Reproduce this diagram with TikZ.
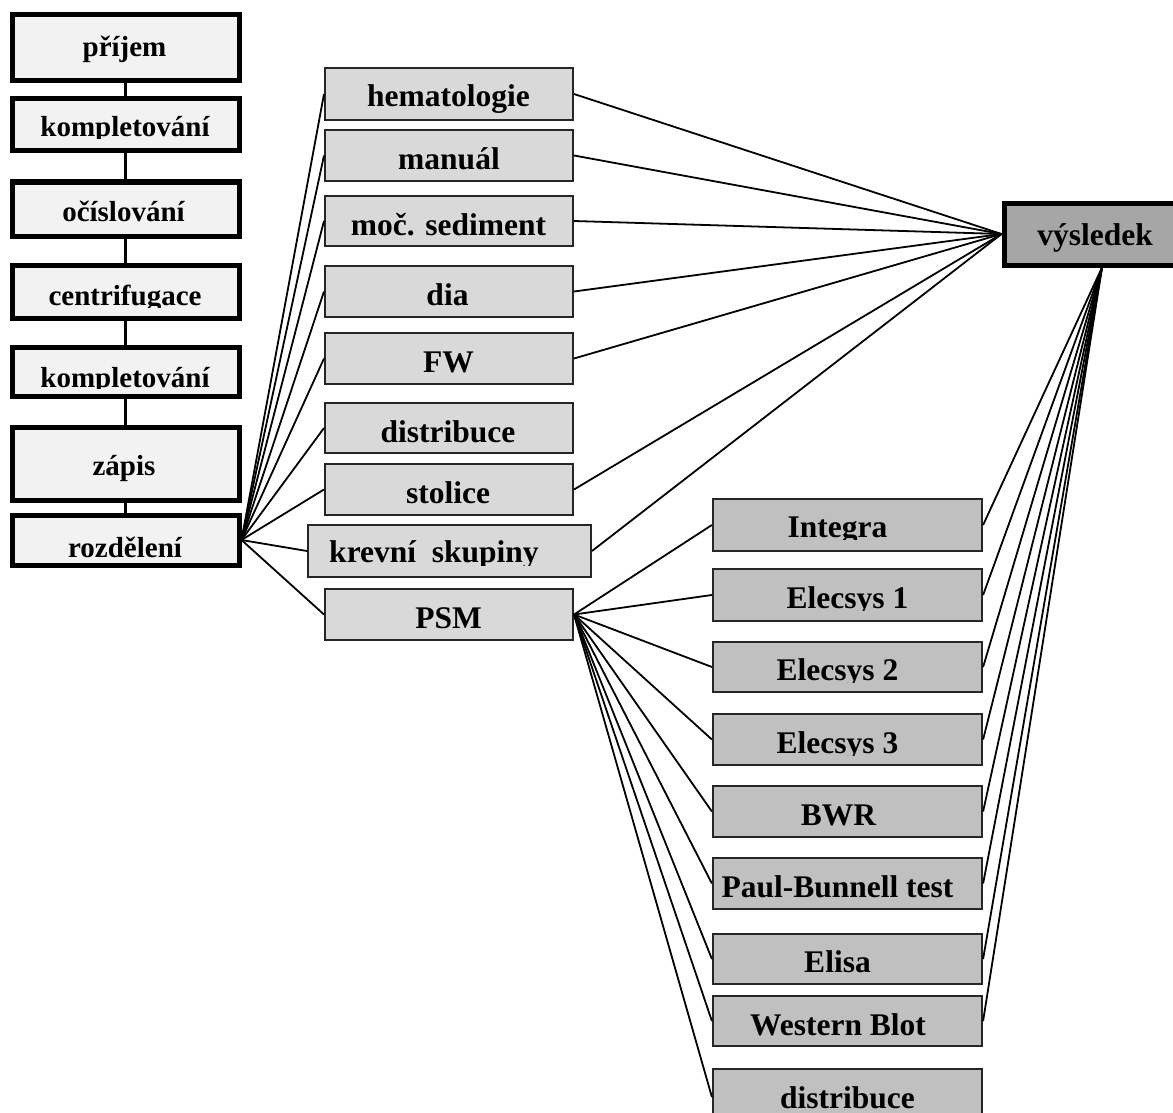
\documentclass[tikz,border=0pt]{standalone}
\usepackage{fontspec}
\setmainfont{Liberation Serif}
\definecolor{fillL}{HTML}{F2F2F2}
\definecolor{fillM}{HTML}{D9D9D9}
\definecolor{fillR}{HTML}{C0C0C0}
\definecolor{fillV}{HTML}{A6A6A6}
\def\tsize{31.5}
\tikzset{
 boxL/.style={draw=black, line width=5pt, fill=fillL, inner sep=0pt},
 boxM/.style={draw=black!85, line width=2pt, fill=fillM, inner sep=0pt},
 boxR/.style={draw=black!85, line width=2.2pt, fill=fillR, inner sep=0pt},
 boxV/.style={draw=black, line width=5pt, fill=fillV, inner sep=0pt},
 txt/.style={anchor=base, inner sep=0pt, font=\fontsize{\tsize}{\tsize}\selectfont\bfseries},
 link/.style={line width=1.8pt, black},
 chain/.style={line width=2.6pt, black},
}
% #1 name, #2 style, #3 x1, #4 y1, #5 x2, #6 y2, #7 text point, #8 clip y, #9 text
\newcommand\mybox[9]{%
 \node[#2, minimum width={(#5)-(#3)}, minimum height={(#6)-(#4)}] (#1) at ({(#3+#5)/2},{(#4+#6)/2}) {};
 \begin{scope}
  \clip (#3,#4) rectangle (#5,#8);
  \node[txt] (#1t) at (#7) {#9};
 \end{scope}}
\begin{document}
\begin{tikzpicture}[x=1pt,y=-1pt]
\useasboundingbox (0,0) rectangle (1173,1113);
\clip (0,0) rectangle (1173,1113);
% left column
\def\tsize{29}
\mybox{a1}{boxL}{12}{15}{239}{81}{124.5,57}{81}{příjem}
\mybox{a2}{boxL}{12}{99}{239}{151}{125,137}{139}{kompletování}
\mybox{a3}{boxL}{12}{182}{239}{236}{123.5,222}{223}{očíslování}
\mybox{a4}{boxL}{12}{265}{239}{318}{125,305}{307}{centrifugace}
\mybox{a5}{boxL}{12}{347}{239}{396}{125,387}{388.5}{kompletování}
\mybox{a6}{boxL}{12}{427}{239}{500}{124,475}{500}{zápis}
\mybox{a7}{boxL}{12}{515}{239}{565}{125,557}{557.5}{rozdělení}
% middle column
\def\tsize{31.5}
\mybox{m1}{boxM}{325}{68}{573}{120}{448.5,107}{120}{hematologie}
\mybox{m2}{boxM}{325}{130}{573}{181}{449,170}{181}{manuál}
\mybox{m3}{boxM}{325}{196}{573}{246}{448.5,235}{246}{moč. sediment}
\mybox{m4}{boxM}{325}{266}{573}{317}{447.5,305}{317}{dia}
\mybox{m5}{boxM}{325}{333}{573}{384}{448.5,372}{384}{FW}
\mybox{m6}{boxM}{325}{403}{573}{453}{448,442}{453}{distribuce}
\mybox{m7}{boxM}{325}{464}{573}{515}{448,503}{515}{stolice}
\mybox{m8}{boxM}{308}{525}{591}{577}{434,562}{565}{krevní\ \ skupiny}
\mybox{m9}{boxM}{325}{589}{573}{640}{448.5,628}{640}{PSM}
% right column
\mybox{r1}{boxR}{713}{499}{982}{551}{837.5,537}{539}{Integra}
\mybox{r2}{boxR}{713}{569}{982}{621}{847.5,608}{610}{Elecsys 1}
\mybox{r3}{boxR}{713}{642}{982}{692}{837.5,680}{682}{Elecsys 2}
\mybox{r4}{boxR}{713}{714}{982}{765}{837.5,753}{755}{Elecsys 3}
\mybox{r5}{boxR}{713}{786}{982}{837}{838.5,825}{837}{BWR}
\mybox{r6}{boxR}{713}{858}{982}{909}{837.5,897}{909}{Paul-Bunnell test}
\mybox{r7}{boxR}{713}{934}{982}{984}{837.5,972}{984}{Elisa}
\mybox{r8}{boxR}{713}{996}{982}{1046}{838,1035}{1046}{Western Blot}
\mybox{r9}{boxR}{713}{1069}{982}{1125}{847.5,1108}{1125}{distribuce}
% result
\mybox{v}{boxV}{1004}{203}{1200}{265}{1095,245}{265}{výsledek}
% connectors
\foreach \i [remember=\i as \j (initially a1)] in {a2,a3,a4,a5,a6,a7}
  \draw[chain] (\j.south) -- (\i.north);
\foreach \m in {m1,m2,m3,m4,m5,m6,m7,m8,m9}
  \draw[link] (a7.east) -- (\m.west);
\foreach \m in {m1,m2,m3,m4,m5,m7,m8}
  \draw[link] (\m.east) -- (v.west);
\foreach \r in {r1,r2,r3,r4,r5,r6,r7,r8,r9}
  \draw[link] (m9.east) -- (\r.west);
\foreach \r in {r1,r2,r3,r4,r5,r6,r7,r8}
  \draw[link] (\r.east) -- (v.south);
\end{tikzpicture}
\end{document}
